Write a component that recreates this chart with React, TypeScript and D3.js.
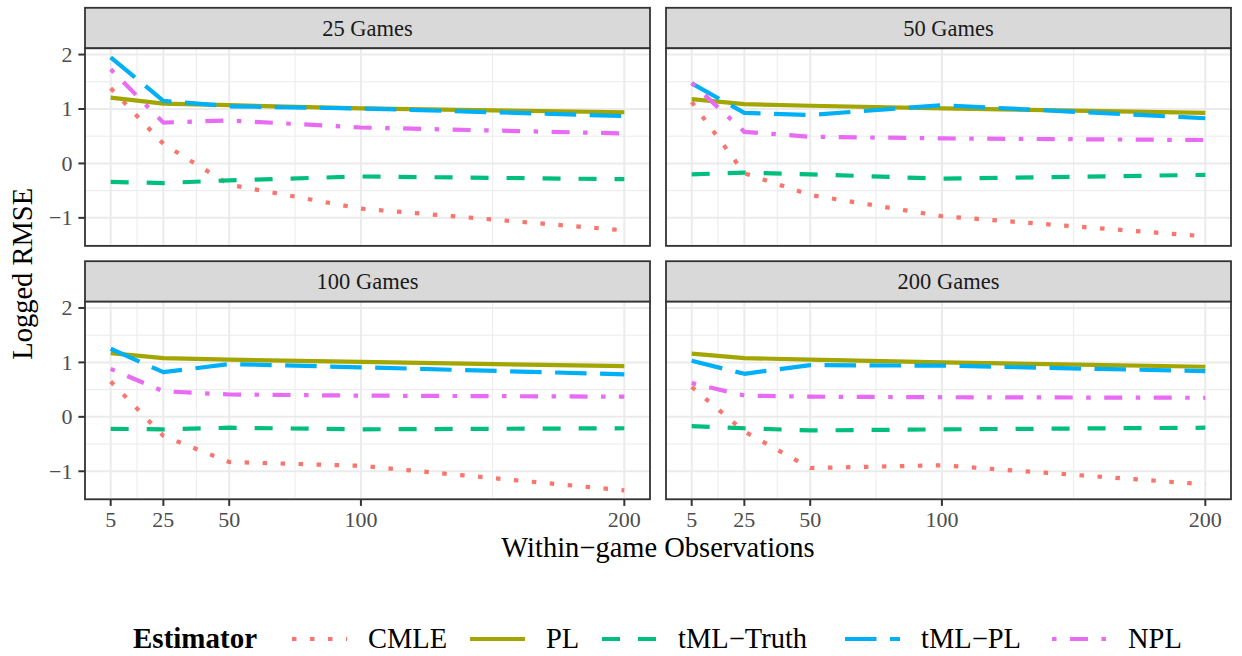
import React from "react";
import * as d3 from "d3";

// ---------------- data ----------------
const facetLabels = ["25 Games", "50 Games", "100 Games", "200 Games"];
const observations = [5, 25, 50, 100, 200];
const estimatorNames = ["CMLE", "PL", "tML\u2212Truth", "tML\u2212PL", "NPL"];

// one row per facet (25, 50, 100, 200 games), one value per observation count
const cmleValues = [
  [1.38, 0.36, -0.39, -0.83, -1.23],
  [1.13, -0.18, -0.58, -0.97, -1.34],
  [0.65, -0.35, -0.83, -0.9, -1.35],
  [0.55, -0.27, -0.94, -0.89, -1.24],
];
const plValues = [
  [1.21, 1.1, 1.07, 1.01, 0.94],
  [1.18, 1.09, 1.06, 1.01, 0.93],
  [1.17, 1.08, 1.05, 1.01, 0.93],
  [1.16, 1.08, 1.05, 1.0, 0.92],
];
const tmlTruthValues = [
  [-0.34, -0.36, -0.31, -0.24, -0.29],
  [-0.2, -0.17, -0.2, -0.28, -0.21],
  [-0.22, -0.23, -0.2, -0.23, -0.21],
  [-0.17, -0.21, -0.25, -0.23, -0.2],
];
const tmlPlValues = [
  [1.95, 1.15, 1.05, 1.01, 0.87],
  [1.47, 0.93, 0.89, 1.07, 0.83],
  [1.25, 0.82, 0.97, 0.91, 0.78],
  [1.03, 0.79, 0.95, 0.94, 0.84],
];
const nplValues = [
  [1.73, 0.75, 0.79, 0.66, 0.55],
  [1.48, 0.58, 0.49, 0.46, 0.43],
  [0.88, 0.47, 0.41, 0.39, 0.37],
  [0.62, 0.39, 0.37, 0.36, 0.35],
];

const xTickValues = [5, 25, 50, 100, 200];
const xMinorValues = [15, 37.5, 75, 150];
const yTickValues = [-1, 0, 1, 2];
const yMinorValues = [-1.5, -0.5, 0.5, 1.5];

// ---------------- styling ----------------
const W = 1242;
const H = 656;
const FONT = "'Liberation Serif', 'Times New Roman', serif";
const colors = ["#F8766D", "#A3A500", "#00BF7D", "#00B0F6", "#E76BF3"];
const U = 4.5;
const dashes = [
  `${U} ${3 * U}`,
  "none",
  `${4 * U} ${4 * U}`,
  `${7 * U} ${3 * U}`,
  `${U} ${3 * U} ${4 * U} ${3 * U}`,
];
const LINE_W = 4.2;

const panelLeft = 85;
const panelW = 565;
const colGap = 16;
const stripTop = 7.8;
const stripH = 40.5;
const panelH = 197.6;
const rowGap = 15.3;

const seriesValues = [cmleValues, plValues, tmlTruthValues, tmlPlValues, nplValues];

export default function App() {
  const allVals = seriesValues.flat(2);
  const [ymin, ymax] = d3.extent(allVals) as [number, number];
  const yr = ymax - ymin;
  const xr = d3.max(observations)! - d3.min(observations)!;

  const x = d3
    .scaleLinear()
    .domain([d3.min(observations)! - 0.05 * xr, d3.max(observations)! + 0.05 * xr])
    .range([0, panelW]);
  const y = d3
    .scaleLinear()
    .domain([ymin - 0.05 * yr, ymax + 0.05 * yr])
    .range([panelH, 0]);

  const line = d3
    .line<number>()
    .x((_, i) => x(observations[i]))
    .y((d) => y(d));

  const panels = facetLabels.map((label, fi) => {
    const col = fi % 2;
    const row = Math.floor(fi / 2);
    const px = panelLeft + col * (panelW + colGap);
    const sy = stripTop + row * (stripH + panelH + rowGap);
    const py = sy + stripH;
    return { label, fi, col, row, px, sy, py };
  });

  // legend layout
  const legendY = 639;
  const keyStarts = [292, 470, 602, 845, 1052];
  const keyLen = 55;
  const labelOffset = 21;

  return (
    <svg
      width={W}
      height={H}
      style={{ position: "absolute", left: 0, top: 0, background: "#fff" }}
      fontFamily={FONT}
    >
      <rect x={0} y={0} width={W} height={H} fill="#ffffff" />
      <defs>
        {panels.map((p) => (
          <clipPath id={`clip${p.fi}`} key={p.fi}>
            <rect x={0} y={0} width={panelW} height={panelH} />
          </clipPath>
        ))}
      </defs>

      {panels.map((p) => (
        <g key={p.fi}>
          {/* strip */}
          <rect
            x={p.px}
            y={p.sy}
            width={panelW}
            height={stripH}
            fill="#D9D9D9"
            stroke="#333333"
            strokeWidth={1.8}
          />
          <text
            x={p.px + panelW / 2}
            y={p.sy + stripH / 2 + 7.6}
            textAnchor="middle"
            fontSize={22.5}
            fill="#1A1A1A"
          >
            {p.label}
          </text>

          <g transform={`translate(${p.px},${p.py})`}>
            <rect x={0} y={0} width={panelW} height={panelH} fill="#ffffff" />
            {/* minor grid */}
            {yMinorValues
              .filter((v) => v >= y.domain()[0] && v <= y.domain()[1])
              .map((v) => (
                <line key={"ym" + v} x1={0} x2={panelW} y1={y(v)} y2={y(v)} stroke="#EBEBEB" strokeWidth={1} />
              ))}
            {xMinorValues.map((v) => (
              <line key={"xm" + v} x1={x(v)} x2={x(v)} y1={0} y2={panelH} stroke="#EBEBEB" strokeWidth={1} />
            ))}
            {/* major grid */}
            {yTickValues.map((v) => (
              <line key={"yM" + v} x1={0} x2={panelW} y1={y(v)} y2={y(v)} stroke="#EBEBEB" strokeWidth={2} />
            ))}
            {xTickValues.map((v) => (
              <line key={"xM" + v} x1={x(v)} x2={x(v)} y1={0} y2={panelH} stroke="#EBEBEB" strokeWidth={2} />
            ))}

            {/* series */}
            <g clipPath={`url(#clip${p.fi})`}>
              {seriesValues.map((sv, si) => (
                <path
                  key={si}
                  d={line(sv[p.fi]) || ""}
                  fill="none"
                  stroke={colors[si]}
                  strokeWidth={LINE_W}
                  strokeDasharray={dashes[si]}
                  strokeLinejoin="round"
                  strokeLinecap="butt"
                />
              ))}
            </g>

            <rect x={0} y={0} width={panelW} height={panelH} fill="none" stroke="#333333" strokeWidth={1.8} />

            {/* y axis on left column */}
            {p.col === 0 &&
              yTickValues.map((v) => (
                <g key={"yt" + v}>
                  <line x1={-6.6} x2={0} y1={y(v)} y2={y(v)} stroke="#333333" strokeWidth={2} />
                  <text
                    x={-12.5}
                    y={y(v)}
                    dy="0.34em"
                    textAnchor="end"
                    fontSize={22}
                    fill="#4D4D4D"
                  >
                    {v < 0 ? "\u2212" + Math.abs(v) : String(v)}
                  </text>
                </g>
              ))}

            {/* x axis on bottom row */}
            {p.row === 1 &&
              xTickValues.map((v) => (
                <g key={"xt" + v}>
                  <line x1={x(v)} x2={x(v)} y1={panelH} y2={panelH + 6.6} stroke="#333333" strokeWidth={2} />
                  <text x={x(v)} y={panelH + 27.7} textAnchor="middle" fontSize={22} fill="#4D4D4D">
                    {v}
                  </text>
                </g>
              ))}
          </g>
        </g>
      ))}

      {/* axis titles */}
      <text
        x={panelLeft + (2 * panelW + colGap) / 2}
        y={557}
        textAnchor="middle"
        fontSize={28.5}
        fill="#000"
      >
        Within{"\u2212"}game Observations
      </text>
      <text
        transform={`translate(32,${stripTop + stripH + (2 * panelH + stripH + rowGap) / 2}) rotate(-90)`}
        textAnchor="middle"
        fontSize={28.5}
        fill="#000"
      >
        Logged RMSE
      </text>

      {/* legend */}
      <text x={133} y={648} fontSize={29} fontWeight="bold" fill="#000">
        Estimator
      </text>
      {estimatorNames.map((name, i) => (
        <g key={name}>
          <line
            x1={keyStarts[i]}
            x2={keyStarts[i] + keyLen}
            y1={legendY}
            y2={legendY}
            stroke={colors[i]}
            strokeWidth={LINE_W}
            strokeDasharray={dashes[i]}
            strokeLinecap="butt"
          />
          <text x={keyStarts[i] + keyLen + labelOffset} y={648} fontSize={28.5} fill="#000">
            {name}
          </text>
        </g>
      ))}
    </svg>
  );
}
